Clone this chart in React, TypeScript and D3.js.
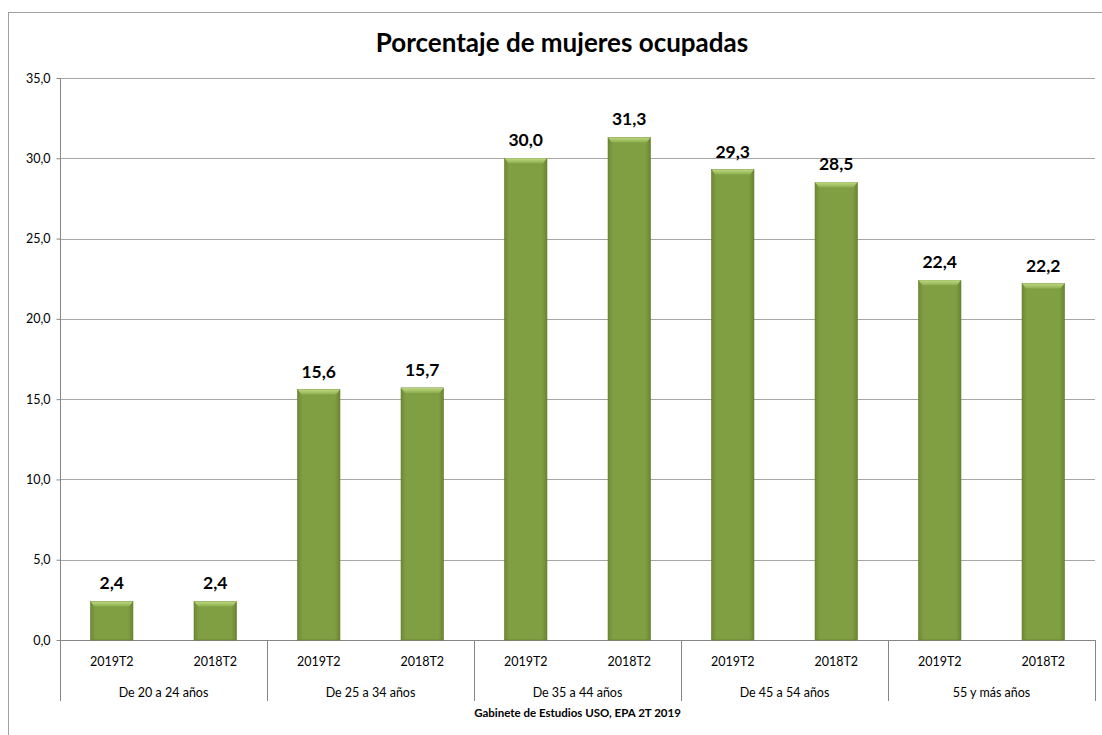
import * as d3 from 'd3';
import { useEffect, useRef } from 'react';

const groups = ['De 20 a 24 años', 'De 25 a 34 años', 'De 35 a 44 años', 'De 45 a 54 años', '55 y más años'];
const periods = ['2019T2', '2018T2'];
const values2019 = [2.4, 15.6, 30.0, 29.3, 22.4];
const values2018 = [2.4, 15.7, 31.3, 28.5, 22.2];
const yTicks = [0, 5, 10, 15, 20, 25, 30, 35];

export default function App() {
  const ref = useRef<SVGSVGElement>(null);

  const width = 1102;
  const height = 735;
  const margin = { top: 78, right: 7, bottom: 95, left: 60 };

  useEffect(() => {
    const svg = d3.select(ref.current);
    svg.selectAll('*').remove();

    const font = 'Lato, "Open Sans", sans-serif';

    // flatten the two series into one row per bar
    const rows = groups.flatMap((g, i) => [
      { group: g, period: periods[0], key: g + '|' + periods[0], value: values2019[i] },
      { group: g, period: periods[1], key: g + '|' + periods[1], value: values2018[i] },
    ]);

    const x = d3
      .scaleBand()
      .domain(rows.map((r) => r.key))
      .range([margin.left, width - margin.right])
      .paddingInner(0.59)
      .paddingOuter(0.295);
    const xGroup = d3
      .scaleBand()
      .domain(groups)
      .range([margin.left, width - margin.right]);
    const y = d3
      .scaleLinear()
      .domain([0, 35])
      .range([height - margin.bottom, margin.top]);

    // gradient for the bevelled bars
    const defs = svg.append('defs');
    const grad = defs
      .append('linearGradient')
      .attr('id', 'barGrad')
      .attr('x1', '0')
      .attr('x2', '1');
    grad.append('stop').attr('offset', '0').attr('stop-color', '#6e8a34');
    grad.append('stop').attr('offset', '0.12').attr('stop-color', '#809f43');
    grad.append('stop').attr('offset', '0.88').attr('stop-color', '#809f43');
    grad.append('stop').attr('offset', '1').attr('stop-color', '#6a8530');
    const topGrad = defs
      .append('linearGradient')
      .attr('id', 'topGrad')
      .attr('x1', '0')
      .attr('x2', '0')
      .attr('y1', '0')
      .attr('y2', '1');
    topGrad.append('stop').attr('offset', '0').attr('stop-color', '#bcd97f');
    topGrad.append('stop').attr('offset', '1').attr('stop-color', '#8fae50');

    // outer chart border
    svg
      .append('rect')
      .attr('x', 8.5)
      .attr('y', 12.5)
      .attr('width', 1100)
      .attr('height', 730)
      .attr('fill', 'white')
      .attr('stroke', '#a0a0a0')
      .attr('stroke-width', 1);

    // gridlines
    svg
      .append('g')
      .selectAll('line')
      .data(yTicks.filter((t) => t > 0))
      .join('line')
      .attr('x1', margin.left)
      .attr('x2', width - margin.right)
      .attr('y1', (d) => Math.round(y(d)) + 0.5)
      .attr('y2', (d) => Math.round(y(d)) + 0.5)
      .attr('stroke', '#a6a6a6')
      .attr('stroke-width', 1);

    // y axis
    const yAxis = d3
      .axisLeft(y)
      .tickValues(yTicks)
      .tickSize(4)
      .tickFormat((d) => d3.format('.1f')(d as number).replace('.', ','));
    const yg = svg
      .append('g')
      .attr('transform', `translate(${margin.left + 0.5},0)`)
      .call(yAxis);
    yg.select('.domain').remove();
    yg.selectAll('.tick line').attr('stroke', '#868686');
    yg.selectAll('.tick text')
      .attr('font-family', font)
      .attr('font-size', 12.5)
      .attr('fill', '#000')
      .attr('dx', -3);
    svg
      .append('line')
      .attr('x1', margin.left + 0.5)
      .attr('x2', margin.left + 0.5)
      .attr('y1', margin.top)
      .attr('y2', 701)
      .attr('stroke', '#868686');

    // baseline
    svg
      .append('line')
      .attr('x1', margin.left)
      .attr('x2', width - margin.right)
      .attr('y1', y(0) + 0.5)
      .attr('y2', y(0) + 0.5)
      .attr('stroke', '#868686');

    // group separators below the axis
    svg
      .append('g')
      .selectAll('line')
      .data(groups.slice(1).concat(['end']))
      .join('line')
      .attr('x1', (d) => Math.round(d === 'end' ? width - margin.right : (xGroup(d) as number)) + 0.5)
      .attr('x2', (d) => Math.round(d === 'end' ? width - margin.right : (xGroup(d) as number)) + 0.5)
      .attr('y1', y(0))
      .attr('y2', 701)
      .attr('stroke', '#868686');

    // bars
    const bars = svg.append('g').selectAll('g').data(rows).join('g');
    bars
      .append('rect')
      .attr('x', (d) => x(d.key) as number)
      .attr('y', (d) => y(d.value))
      .attr('width', x.bandwidth())
      .attr('height', (d) => y(0) - y(d.value))
      .attr('fill', 'url(#barGrad)')
      .attr('stroke', '#5f7a2a')
      .attr('stroke-width', 0.6);
    bars
      .append('path')
      .attr('d', (d) => {
        const x0 = x(d.key) as number;
        const x1 = x0 + x.bandwidth();
        const y0 = y(d.value);
        return `M${x0},${y0} L${x1},${y0} L${x1 - 4},${y0 + 5} L${x0 + 4},${y0 + 5} Z`;
      })
      .attr('fill', 'url(#topGrad)');

    // value labels
    bars
      .append('text')
      .attr('x', (d) => (x(d.key) as number) + x.bandwidth() / 2)
      .attr('y', (d) => y(d.value) - 12)
      .attr('text-anchor', 'middle')
      .attr('font-family', font)
      .attr('font-weight', 'bold')
      .attr('font-size', 17.5)
      .text((d) => d3.format('.1f')(d.value).replace('.', ','));

    // period labels
    svg
      .append('g')
      .selectAll('text')
      .data(rows)
      .join('text')
      .attr('x', (d) => (x(d.key) as number) + x.bandwidth() / 2)
      .attr('y', 666)
      .attr('text-anchor', 'middle')
      .attr('font-family', font)
      .attr('font-size', 12.5)
      .text((d) => d.period);

    // group labels
    svg
      .append('g')
      .selectAll('text')
      .data(groups)
      .join('text')
      .attr('x', (d) => (xGroup(d) as number) + xGroup.bandwidth() / 2)
      .attr('y', 697)
      .attr('text-anchor', 'middle')
      .attr('font-family', font)
      .attr('font-size', 12.5)
      .text((d) => d);

    // footer
    svg
      .append('text')
      .attr('x', (margin.left + width - margin.right) / 2)
      .attr('y', 717)
      .attr('text-anchor', 'middle')
      .attr('font-family', font)
      .attr('font-weight', 'bold')
      .attr('font-size', 11.5)
      .text('Gabinete de Estudios USO, EPA 2T 2019');

    // title
    svg
      .append('text')
      .attr('x', 562)
      .attr('y', 52)
      .attr('text-anchor', 'middle')
      .attr('font-family', font)
      .attr('font-weight', 'bold')
      .attr('font-size', 26)
      .text('Porcentaje de mujeres ocupadas');
  }, []);

  return (
    <svg
      ref={ref}
      width={width}
      height={height}
      style={{ position: 'absolute', left: 0, top: 0, display: 'block' }}
    />
  );
}
